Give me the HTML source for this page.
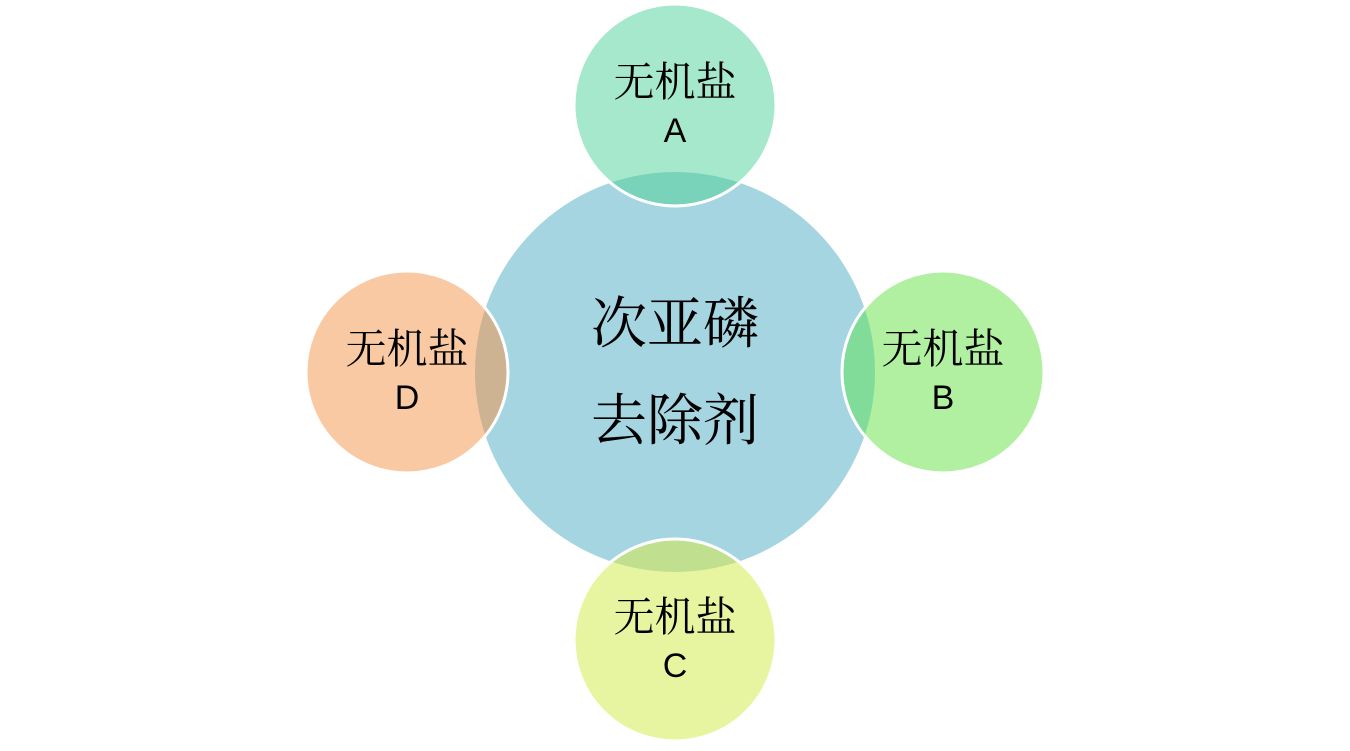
<!DOCTYPE html>
<html><head><meta charset="utf-8"><style>html,body{margin:0;padding:0;background:#fff;}</style></head>
<body>
<svg width="1350" height="746" viewBox="0 0 1350 746" xmlns="http://www.w3.org/2000/svg">
<defs>
<clipPath id="cc"><circle cx="675" cy="372" r="200"/></clipPath>
</defs>
<circle cx="675" cy="372" r="200" fill="#a6d5e2"/>
<circle cx="675" cy="105" r="101" fill="#a5e8cb"/>
<circle cx="943" cy="372" r="101" fill="#b0f0a0"/>
<circle cx="675" cy="640" r="101" fill="#e8f5a0"/>
<circle cx="407" cy="372" r="101" fill="#f9c9a3"/>
<g clip-path="url(#cc)">
<circle cx="675" cy="105" r="101" fill="#78d3ba"/>
<circle cx="943" cy="372" r="101" fill="#80dc98"/>
<circle cx="675" cy="640" r="101" fill="#c0e090"/>
<circle cx="407" cy="372" r="101" fill="#cdb391"/>
</g>
<g fill="none" stroke="#fff" stroke-width="3">
<circle cx="675" cy="105" r="101"/>
<circle cx="943" cy="372" r="101"/>
<circle cx="675" cy="640" r="101"/>
<circle cx="407" cy="372" r="101"/>
</g>
<g font-family="'Noto Serif CJK SC','Noto Sans CJK SC',serif" font-size="56" text-anchor="middle" fill="#000">
<text x="675" y="343">次亚磷</text>
<text x="675" y="440">去除剂</text>
</g>
<g font-family="'Noto Serif CJK SC','Noto Sans CJK SC',serif" font-size="41" text-anchor="middle" fill="#000">
<text x="675" y="96">无机盐</text>
<text x="943" y="363">无机盐</text>
<text x="675" y="631">无机盐</text>
<text x="407" y="363">无机盐</text>
</g>
<g font-family="'Liberation Sans',sans-serif" font-size="34" text-anchor="middle" fill="#000">
<text x="675" y="142">A</text>
<text x="943" y="409">B</text>
<text x="675" y="677">C</text>
<text x="407" y="409">D</text>
</g>
</svg>
</body></html>
